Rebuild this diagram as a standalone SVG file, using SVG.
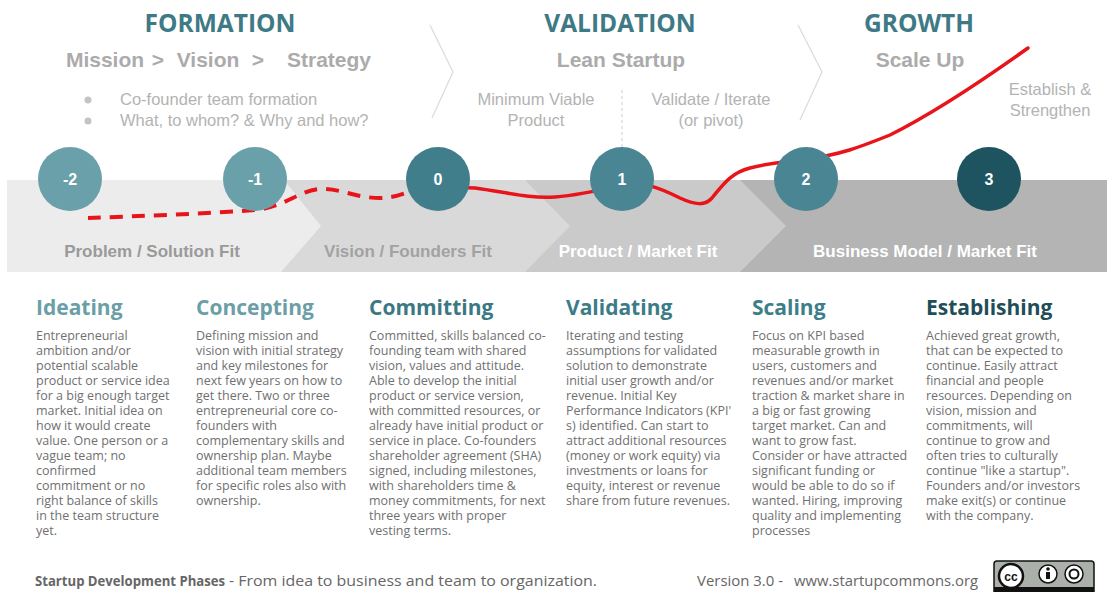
<svg xmlns="http://www.w3.org/2000/svg" width="1107" height="592" viewBox="0 0 1107 592">
<style>
.phase{font-family:"Open Sans","Noto Sans",sans-serif;font-weight:700;font-size:24.5px;fill:#3e7a86;text-anchor:middle}
.sub{font-family:"Liberation Sans",Arial,sans-serif;font-weight:700;font-size:21px;fill:#ababab;text-anchor:middle}
.note{font-family:"Liberation Sans",Arial,sans-serif;font-size:16.5px;fill:#b3b3b3}
.mid{text-anchor:middle}
.fit{font-family:"Liberation Sans",Arial,sans-serif;font-weight:700;font-size:17px;text-anchor:middle}
.num{font-family:"Liberation Sans",Arial,sans-serif;font-weight:700;font-size:16px;fill:#fff;text-anchor:middle}
.head{font-family:"Open Sans","Noto Sans",sans-serif;font-weight:700;font-size:21px}
.body{font-family:"Open Sans","Noto Sans",sans-serif;font-size:12.5px;fill:#707070}
.foot{font-family:"Open Sans","Noto Sans",sans-serif;font-size:14.5px;fill:#666}
.sep{fill:none;stroke:#dcdcdc;stroke-width:1.3}
</style>
<rect width="1107" height="592" fill="#fff"/>

<g id="band">
<rect x="7" y="180" width="1100" height="92" fill="#b4b4b4"/>
<polygon points="7,180 740,180 786,226 740,272 7,272" fill="#cacaca"/>
<polygon points="7,180 525,180 570,226 525,272 7,272" fill="#d9d9d9"/>
<polygon points="7,180 284,180 321,226 281,272 7,272" fill="#ececec"/>
<text class="fit" x="152" y="257" fill="#9a9a9a">Problem / Solution Fit</text>
<text class="fit" x="408" y="257" fill="#a2a2a2">Vision / Founders Fit</text>
<text class="fit" x="638" y="257" fill="#ffffff">Product / Market Fit</text>
<text class="fit" x="925" y="257" fill="#ffffff">Business Model / Market Fit</text>
</g>

<g id="header-formation">
<text class="phase" x="220" y="32">FORMATION</text>
<text class="sub" y="67"><tspan x="105">Mission</tspan><tspan x="158">&gt;</tspan><tspan x="208">Vision</tspan><tspan x="258">&gt;</tspan><tspan x="329">Strategy</tspan></text>
<circle cx="88" cy="100" r="3.5" fill="#c4c4c4"/>
<circle cx="88" cy="121" r="3.5" fill="#c4c4c4"/>
<text class="note" x="120" y="105">Co-founder team formation</text>
<text class="note" x="120" y="126">What, to whom? &amp; Why and how?</text>
</g>
<g id="header-validation">
<text class="phase" x="620" y="32">VALIDATION</text>
<text class="sub" x="621" y="67">Lean Startup</text>
<text class="note mid" x="536" y="105">Minimum Viable</text>
<text class="note mid" x="536" y="126">Product</text>
<text class="note mid" x="711" y="105">Validate / Iterate</text>
<text class="note mid" x="711" y="126">(or pivot)</text>
<line x1="622" y1="90" x2="622" y2="147" stroke="#cccccc" stroke-width="1" stroke-dasharray="3,3"/>
</g>
<g id="header-growth">
<text class="phase" x="919" y="32">GROWTH</text>
<text class="sub" x="920" y="67">Scale Up</text>
<text class="note mid" x="1050" y="95">Establish &amp;</text>
<text class="note mid" x="1050" y="116">Strengthen</text>
</g>

<g id="connectors">
<polyline class="sep" points="430,25 453,72 432,118"/>
<polyline class="sep" points="798,25 822,72 800,120"/>
<path d="M88,218 C140,216 200,214 255,210 C285,207 300,190 320,189 C340,188 355,198 380,198 C395,198 405,193 412,191" fill="none" stroke="#e8141a" stroke-width="4" stroke-dasharray="13,9"/>
<path d="M412,191 C440,187 460,187 475,188 C505,192 530,199 555,197 C580,195 605,189 622,185 C640,180 660,188 680,198 C695,205 705,206 712,198 C722,186 730,173 750,168 C765,164 780,162 806,159 C840,155 860,147 890,135 C940,110 1000,68 1028,48" fill="none" stroke="#e8141a" stroke-width="3.5" stroke-linecap="round"/>
</g>

<g id="stage-m2"><circle cx="70" cy="179" r="32" fill="#6aa0aa"/><text class="num" x="70" y="185">-2</text></g>
<g id="stage-m1"><circle cx="255" cy="179" r="32" fill="#6aa0aa"/><text class="num" x="255" y="185">-1</text></g>
<g id="stage-0"><circle cx="438" cy="179" r="32" fill="#417e8b"/><text class="num" x="438" y="185">0</text></g>
<g id="stage-1"><circle cx="622" cy="179" r="32" fill="#4a8593"/><text class="num" x="622" y="185">1</text></g>
<g id="stage-2"><circle cx="806" cy="179" r="32" fill="#4a8593"/><text class="num" x="806" y="185">2</text></g>
<g id="stage-3"><circle cx="989" cy="179" r="32" fill="#1e5360"/><text class="num" x="989" y="185">3</text></g>

<g id="col-ideating">
<text class="head" x="36" y="315" fill="#6b9ea6">Ideating</text>
<text class="body" y="340"><tspan x="36">Entrepreneurial</tspan><tspan x="36" dy="15">ambition and/or</tspan><tspan x="36" dy="15">potential scalable</tspan><tspan x="36" dy="15">product or service idea</tspan><tspan x="36" dy="15">for a big enough target</tspan><tspan x="36" dy="15">market. Initial idea on</tspan><tspan x="36" dy="15">how it would create</tspan><tspan x="36" dy="15">value. One person or a</tspan><tspan x="36" dy="15">vague team; no</tspan><tspan x="36" dy="15">confirmed</tspan><tspan x="36" dy="15">commitment or no</tspan><tspan x="36" dy="15">right balance of skills</tspan><tspan x="36" dy="15">in the team structure</tspan><tspan x="36" dy="15">yet.</tspan></text>
</g>
<g id="col-concepting">
<text class="head" x="196" y="315" fill="#6b9ea6">Concepting</text>
<text class="body" y="340"><tspan x="196">Defining mission and</tspan><tspan x="196" dy="15">vision with initial strategy</tspan><tspan x="196" dy="15">and key milestones for</tspan><tspan x="196" dy="15">next few years on how to</tspan><tspan x="196" dy="15">get there. Two or three</tspan><tspan x="196" dy="15">entrepreneurial core co-</tspan><tspan x="196" dy="15">founders with</tspan><tspan x="196" dy="15">complementary skills and</tspan><tspan x="196" dy="15">ownership plan. Maybe</tspan><tspan x="196" dy="15">additional team members</tspan><tspan x="196" dy="15">for specific roles also with</tspan><tspan x="196" dy="15">ownership.</tspan></text>
</g>
<g id="col-committing">
<text class="head" x="369" y="315" fill="#3c7883">Committing</text>
<text class="body" y="340"><tspan x="369">Committed, skills balanced co-</tspan><tspan x="369" dy="15">founding team with shared</tspan><tspan x="369" dy="15">vision, values and attitude.</tspan><tspan x="369" dy="15">Able to develop the initial</tspan><tspan x="369" dy="15">product or service version,</tspan><tspan x="369" dy="15">with committed resources, or</tspan><tspan x="369" dy="15">already have initial product or</tspan><tspan x="369" dy="15">service in place. Co-founders</tspan><tspan x="369" dy="15">shareholder agreement (SHA)</tspan><tspan x="369" dy="15">signed, including milestones,</tspan><tspan x="369" dy="15">with shareholders time &amp;</tspan><tspan x="369" dy="15">money commitments, for next</tspan><tspan x="369" dy="15">three years with proper</tspan><tspan x="369" dy="15">vesting terms.</tspan></text>
</g>
<g id="col-validating">
<text class="head" x="566" y="315" fill="#3c7c86">Validating</text>
<text class="body" y="340"><tspan x="566">Iterating and testing</tspan><tspan x="566" dy="15">assumptions for validated</tspan><tspan x="566" dy="15">solution to demonstrate</tspan><tspan x="566" dy="15">initial user growth and/or</tspan><tspan x="566" dy="15">revenue. Initial Key</tspan><tspan x="566" dy="15">Performance Indicators (KPI'</tspan><tspan x="566" dy="15">s) identified. Can start to</tspan><tspan x="566" dy="15">attract additional resources</tspan><tspan x="566" dy="15">(money or work equity) via</tspan><tspan x="566" dy="15">investments or loans for</tspan><tspan x="566" dy="15">equity, interest or revenue</tspan><tspan x="566" dy="15">share from future revenues.</tspan></text>
</g>
<g id="col-scaling">
<text class="head" x="752" y="315" fill="#3e7e89">Scaling</text>
<text class="body" y="340"><tspan x="752">Focus on KPI based</tspan><tspan x="752" dy="15">measurable growth in</tspan><tspan x="752" dy="15">users, customers and</tspan><tspan x="752" dy="15">revenues and/or market</tspan><tspan x="752" dy="15">traction &amp; market share in</tspan><tspan x="752" dy="15">a big or fast growing</tspan><tspan x="752" dy="15">target market. Can and</tspan><tspan x="752" dy="15">want to grow fast.</tspan><tspan x="752" dy="15">Consider or have attracted</tspan><tspan x="752" dy="15">significant funding or</tspan><tspan x="752" dy="15">would be able to do so if</tspan><tspan x="752" dy="15">wanted. Hiring, improving</tspan><tspan x="752" dy="15">quality and implementing</tspan><tspan x="752" dy="15">processes</tspan></text>
</g>
<g id="col-establishing">
<text class="head" x="926" y="315" fill="#1f4e58">Establishing</text>
<text class="body" y="340"><tspan x="926">Achieved great growth,</tspan><tspan x="926" dy="15">that can be expected to</tspan><tspan x="926" dy="15">continue. Easily attract</tspan><tspan x="926" dy="15">financial and people</tspan><tspan x="926" dy="15">resources. Depending on</tspan><tspan x="926" dy="15">vision, mission and</tspan><tspan x="926" dy="15">commitments, will</tspan><tspan x="926" dy="15">continue to grow and</tspan><tspan x="926" dy="15">often tries to culturally</tspan><tspan x="926" dy="15">continue "like a startup".</tspan><tspan x="926" dy="15">Founders and/or investors</tspan><tspan x="926" dy="15">make exit(s) or continue</tspan><tspan x="926" dy="15">with the company.</tspan></text>
</g>

<g id="footer">
<text class="foot" x="35" y="586" font-weight="700" fill="#555" textLength="190" lengthAdjust="spacingAndGlyphs">Startup Development Phases</text>
<text class="foot" x="229" y="586" textLength="368" lengthAdjust="spacingAndGlyphs">- From idea to business and team to organization.</text>
<text class="foot" x="697" y="586" textLength="86" lengthAdjust="spacingAndGlyphs">Version 3.0 -</text>
<text class="foot" x="794" y="586" fill="#3f8a95" textLength="184" lengthAdjust="spacingAndGlyphs">www.startupcommons.org</text>
</g>
<g id="cc-badge">
<rect x="994" y="561" width="100" height="36" rx="3" fill="#abb1aa" stroke="#111" stroke-width="1.5"/>
<rect x="994" y="587" width="100" height="10" fill="#111"/>
<circle cx="1011" cy="576" r="12" fill="#fff" stroke="#111" stroke-width="2.5"/>
<text x="1011" y="580.5" font-family="Liberation Sans,Arial,sans-serif" font-weight="700" font-size="12" text-anchor="middle" fill="#111">cc</text>
<circle cx="1048" cy="574" r="9" fill="#fff" stroke="#111" stroke-width="1.5"/>
<circle cx="1048" cy="569" r="1.8" fill="#111"/>
<rect x="1046" y="572" width="4" height="7" fill="#111"/>
<circle cx="1074" cy="574" r="9" fill="#fff" stroke="#111" stroke-width="1.5"/>
<circle cx="1074" cy="574" r="4.5" fill="none" stroke="#111" stroke-width="2"/>
</g>
</svg>
